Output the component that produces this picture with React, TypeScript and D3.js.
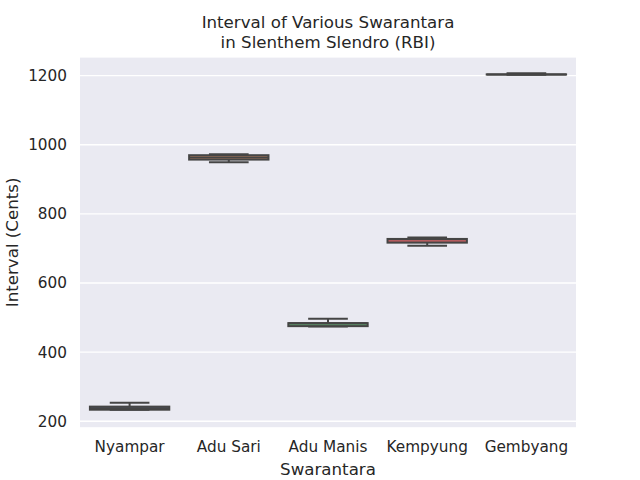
import React from "react";
import * as d3 from "d3";

const categories = ["Nyampar", "Adu Sari", "Adu Manis", "Kempyung", "Gembyang"];
const whiskerLow = [233.6, 949, 474.5, 708, 1202.5];
const q1 = [233.6, 957, 475.3, 716.8, 1203];
const median = [238, 963, 484, 727.5, 1203];
const q3 = [242.5, 969.7, 484, 727.5, 1203.5];
const whiskerHigh = [254, 972.5, 497, 732, 1207];
const fills = ["#5875A4", "#CC8963", "#5F9E6E", "#B55D60", "#857AAB"];
const yTicks = [200, 400, 600, 800, 1000, 1200];

const W = 640, H = 480;
const L = 80, R = 576, T = 57.6, B = 427.2;
const font = "'DejaVu Sans', sans-serif";
const txt = "#262626";
const lineColor = "#454545";

export default function App() {
  const x = d3.scaleBand<string>().domain(categories).range([L, R]).paddingInner(0).paddingOuter(0);
  const y = d3.scaleLinear().domain([183, 1252]).range([B, T]);
  const bw = x.bandwidth() * 0.8;
  return (
    <svg width={W} height={H} style={{ position: "absolute", left: 0, top: 0 }} fontFamily={font}>
      <rect x={0} y={0} width={W} height={H} fill="#ffffff" />
      <rect x={L} y={T} width={R - L} height={B - T} fill="#EAEAF2" />
      {yTicks.map((t) => (
        <line key={t} x1={L} x2={R} y1={y(t)} y2={y(t)} stroke="#ffffff" strokeWidth={1.4} />
      ))}
      {categories.map((c, i) => {
        const cx = (x(c) as number) + x.bandwidth() / 2;
        const x0 = cx - bw / 2;
        const capW = bw / 2;
        return (
          <g key={c} stroke={lineColor} strokeWidth={2}>
            <line x1={cx} x2={cx} y1={y(q3[i])} y2={y(whiskerHigh[i])} />
            <line x1={cx} x2={cx} y1={y(q1[i])} y2={y(whiskerLow[i])} />
            <line x1={cx - capW / 2} x2={cx + capW / 2} y1={y(whiskerHigh[i])} y2={y(whiskerHigh[i])} />
            <line x1={cx - capW / 2} x2={cx + capW / 2} y1={y(whiskerLow[i])} y2={y(whiskerLow[i])} />
            <rect x={x0} y={y(q3[i])} width={bw} height={Math.max(0, y(q1[i]) - y(q3[i]))} fill={fills[i]} />
            <line x1={x0} x2={x0 + bw} y1={y(median[i])} y2={y(median[i])} />
          </g>
        );
      })}
      {yTicks.map((t) => (
        <text key={t} x={L - 13} y={y(t)} dy="0.35em" textAnchor="end" fontSize={15.28} fill={txt}>
          {t}
        </text>
      ))}
      {categories.map((c) => (
        <text key={c} x={(x(c) as number) + x.bandwidth() / 2} y={452} textAnchor="middle" fontSize={15.28} fill={txt}>
          {c}
        </text>
      ))}
      <text x={(L + R) / 2} y={475} textAnchor="middle" fontSize={16.67} fill={txt}>Swarantara</text>
      <text transform={`translate(18,${(T + B) / 2}) rotate(-90)`} textAnchor="middle" fontSize={16.67} fill={txt}>
        Interval (Cents)
      </text>
      <text x={(L + R) / 2} y={28} textAnchor="middle" fontSize={16.67} fill={txt}>Interval of Various Swarantara</text>
      <text x={(L + R) / 2} y={48} textAnchor="middle" fontSize={16.67} fill={txt}>in Slenthem Slendro (RBI)</text>
    </svg>
  );
}
